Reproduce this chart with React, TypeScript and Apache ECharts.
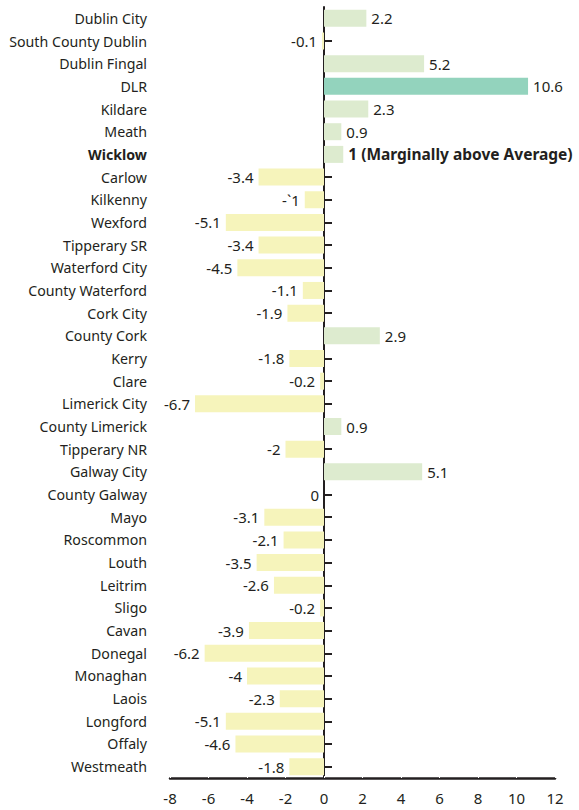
import React, { useEffect, useRef } from "react";
import * as echarts from "echarts";

const categories = [
  "Dublin City", "South County Dublin", "Dublin Fingal", "DLR", "Kildare", "Meath", "Wicklow",
  "Carlow", "Kilkenny", "Wexford", "Tipperary SR", "Waterford City", "County Waterford", "Cork City",
  "County Cork", "Kerry", "Clare", "Limerick City", "County Limerick", "Tipperary NR", "Galway City",
  "County Galway", "Mayo", "Roscommon", "Louth", "Leitrim", "Sligo", "Cavan", "Donegal", "Monaghan",
  "Laois", "Longford", "Offaly", "Westmeath",
];

const values = [
  2.2, -0.1, 5.2, 10.6, 2.3, 0.9, 1,
  -3.4, -1, -5.1, -3.4, -4.5, -1.1, -1.9,
  2.9, -1.8, -0.2, -6.7, 0.9, -2, 5.1,
  0, -3.1, -2.1, -3.5, -2.6, -0.2, -3.9, -6.2, -4,
  -2.3, -5.1, -4.6, -1.8,
];

const valueLabels = [
  "2.2", "-0.1", "5.2", "10.6", "2.3", "0.9", "1 (Marginally above Average)",
  "-3.4", "-`1", "-5.1", "-3.4", "-4.5", "-1.1", "-1.9",
  "2.9", "-1.8", "-0.2", "-6.7", "0.9", "-2", "5.1",
  "0", "-3.1", "-2.1", "-3.5", "-2.6", "-0.2", "-3.9", "-6.2", "-4",
  "-2.3", "-5.1", "-4.6", "-1.8",
];

const highlighted = "Wicklow";
const topCategory = "DLR";

const xTicks = { min: -8, max: 12, interval: 2 };

const GREEN = "#ddebcf";
const TEAL = "#93d3bd";
const YELLOW = "#f6f4bb";
const INK = "#231f20";
const FONT = "Noto Sans";

export default function App() {
  const ref = useRef<HTMLDivElement>(null);
  useEffect(() => {
    if (!ref.current) return;
    const chart = echarts.init(ref.current, null, { renderer: "svg" });
    const data = values.map((v, i) => {
      const cat = categories[i];
      const color = cat === topCategory ? TEAL : v > 0 ? GREEN : YELLOW;
      const bold = cat === highlighted;
      return {
        value: v,
        itemStyle: { color },
        label: {
          show: true,
          position: v > 0 ? "right" : "left",
          distance: 5,
          formatter: valueLabels[i],
          color: INK,
          fontFamily: FONT,
          fontSize: bold ? 15.5 : 15,
          fontWeight: bold ? "bold" : "normal",
        },
      };
    });
    chart.setOption({
      animation: false,
      grid: { left: 170, right: 24, top: 7, bottom: 32, containLabel: false, outerBoundsMode: "none" },
      xAxis: {
        type: "value",
        min: xTicks.min,
        max: xTicks.max,
        interval: xTicks.interval,
        position: "bottom",
        splitLine: { show: false },
        axisLine: { show: true, onZero: false, lineStyle: { color: INK, width: 2.5 } },
        axisTick: { show: true, inside: true, length: 2, lineStyle: { color: "#ffffff", width: 1 } },
        axisLabel: { color: INK, fontFamily: FONT, fontSize: 15, margin: 12 },
      },
      yAxis: {
        type: "category",
        data: categories,
        inverse: true,
        axisLine: { show: true, onZero: true, lineStyle: { color: INK, width: 2 } },
        axisTick: { show: true, inside: true, alignWithLabel: true, length: 8, lineStyle: { color: INK, width: 2 } },
        axisLabel: {
          margin: 23,
          color: INK,
          fontFamily: FONT,
          fontSize: 14.2,
          formatter: (v: string) => (v === highlighted ? `{b|${v}}` : v),
          rich: { b: { fontWeight: "bold", fontFamily: FONT, fontSize: 14.2, color: INK } },
        },
        splitLine: { show: false },
      },
      series: [
        {
          type: "bar",
          data,
          barWidth: 17,
        },
      ],
    });
    return () => chart.dispose();
  }, []);
  return <div ref={ref} style={{ width: 579, height: 810, position: "absolute", left: 0, top: 0 }} />;
}
